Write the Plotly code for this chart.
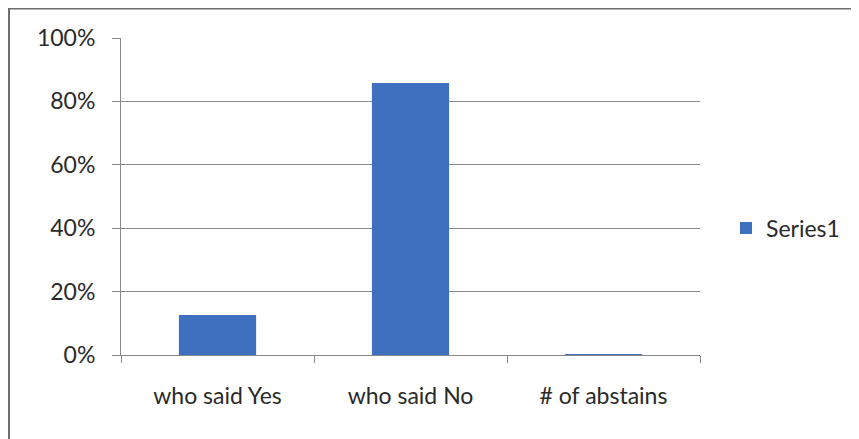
import plotly.graph_objects as go

categories = ["who said Yes", "who said No", "# of abstains"]
values = [0.126, 0.858, 0.003]
series_name = "Series1"
y_tick_vals = [0, 0.2, 0.4, 0.6, 0.8, 1.0]
y_tick_text = ["0%", "20%", "40%", "60%", "80%", "100%"]

W, H = 859, 439
OFF = 8  # page body margin
L, R, T, B = 121 - OFF, 700 - OFF, 38 - OFF, 355 - OFF

fig = go.Figure()
fig.add_trace(go.Bar(
    x=categories, y=values, name=series_name,
    marker=dict(color="#3f70bf", line=dict(width=0)),
    width=0.4,
))

fig.update_layout(
    width=W - OFF, height=H - OFF,
    margin=dict(l=L, r=(W - OFF) - R, t=T, b=(H - OFF) - B, pad=0),
    paper_bgcolor="white", plot_bgcolor="white",
    font=dict(family="Lato, Open Sans, sans-serif", size=23, color="#2a2a2a"),
    showlegend=True,
    legend=dict(x=(726 - OFF - L) / (R - L), y=(B - (228 - OFF)) / (B - T), xanchor="left", yanchor="middle",
                font=dict(size=23), itemwidth=30, bgcolor="rgba(0,0,0,0)"),
)
fig.update_xaxes(
    type="category", showgrid=False, showline=True, linecolor="#888", linewidth=1,
    ticks="outside", tickson="boundaries", ticklen=7, tickcolor="#888",
    tickfont=dict(size=23), range=[-0.5, 2.5], ticklabelstandoff=20,
)
fig.update_yaxes(
    range=[0, 1.0], tickvals=y_tick_vals, ticktext=y_tick_text,
    showgrid=True, gridcolor="#8a8a8a", gridwidth=1,
    showline=True, linecolor="#888", linewidth=1,
    ticks="outside", ticklen=8, tickcolor="#888", zeroline=False,
    tickfont=dict(size=23), ticklabelstandoff=12,
)
# outer chart border (only left and top edges visible in the crop)
x_left = (8 - OFF - L) / (R - L)
y_top = (B - (7.5 - OFF)) / (B - T)
fig.add_shape(type="line", xref="paper", yref="paper", x0=x_left, x1=2.0, y0=y_top, y1=y_top,
              line=dict(color="#6e6e6e", width=4))
fig.add_shape(type="line", xref="paper", yref="paper", x0=x_left, x1=x_left, y0=-1.0, y1=y_top,
              line=dict(color="#6e6e6e", width=4))

fig.write_html("out.html")
